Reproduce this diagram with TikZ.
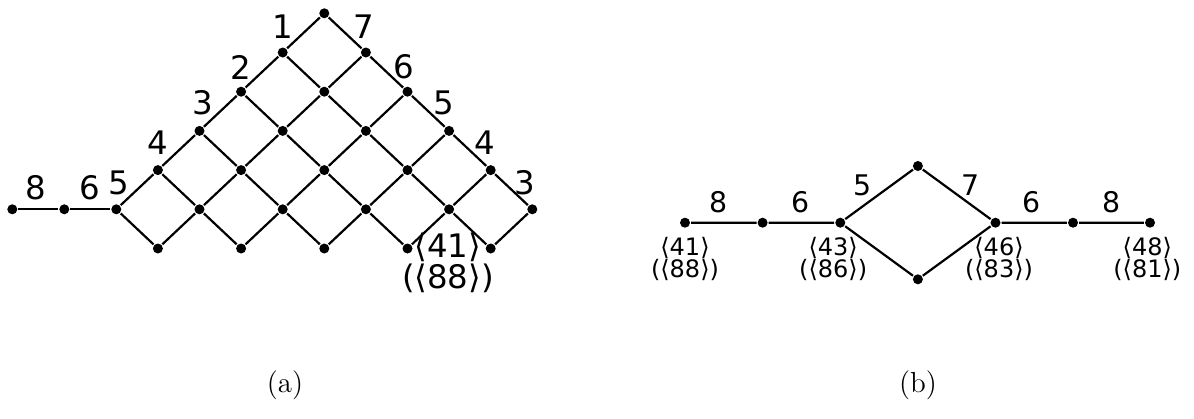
\documentclass[tikz,border=0pt]{standalone}
\usepackage{fontspec}
\newfontfamily\dejavu{DejaVu Sans}
\newcommand{\bigsz}{\dejavu\fontsize{16.2}{15.5}\selectfont}
\newcommand{\midsz}{\dejavu\fontsize{14.2}{14}\selectfont}
\newcommand{\smallsz}{\dejavu\fontsize{12}{11.2}\selectfont}
\tikzset{
  dot/.style={circle,fill,inner sep=0pt,minimum size=5pt},
  lbla/.style={font=\bigsz,inner sep=0pt,align=center},
  lblb/.style={font=\midsz,inner sep=0pt},
  vlbl/.style={font=\smallsz,inner sep=0pt,align=center},
  capt/.style={font=\fontsize{14.5}{14.5}\selectfont,inner sep=0pt}
}
\begin{document}
\begin{tikzpicture}[x=0.5pt,y=-0.5pt,line width=1.1pt]
    \useasboundingbox (0,0) rectangle (1194,418);

    % (a) lattice points
    \foreach \a in {0,...,5}{
      \pgfmathtruncatemacro\bmax{min(\a+1,5)}
      \foreach \b in {0,...,\bmax}{
        \node[dot] (g\a\b) at ({116.3+41.6*(\a+\b)},{209.3-39.2*(\a-\b)}) {};
      }
    }
    % (a) lattice edges
    \foreach \a in {0,...,5}{
      \pgfmathtruncatemacro\bmax{min(\a+1,5)}
      \foreach \b in {0,...,\bmax}{
        \pgfmathtruncatemacro\an{\a+1}
        \pgfmathtruncatemacro\bn{\b+1}
        \ifnum\a<5 \draw (g\a\b) -- (g\an\b); \fi
        \ifnum\b<\bmax \draw (g\a\b) -- (g\a\bn); \fi
      }
    }
    % (a) tail on the left
    \node[dot] (h1) at (12.3,209.3) {};
    \node[dot] (h2) at (64.3,209.3) {};
    \draw (h1) -- (h2) -- (g00);

    % (a) edge labels
    \node[lbla] (la8) at (36.3,188) {8};
    \node[lbla] (la6) at (90,188) {6};
    \node[lbla] (la5) at (118.4,183) {5};
    \node[lbla] (la4) at (158,143) {4};
    \node[lbla] (la3) at (203,103) {3};
    \node[lbla] (la2) at (241,67) {2};
    \node[lbla] (la1) at (283,27) {1};
    \node[lbla] (ra7) at (364,27) {7};
    \node[lbla] (ra6) at (404,67) {6};
    \node[lbla] (ra5) at (444,103) {5};
    \node[lbla] (ra4) at (485,143) {4};
    \node[lbla] (ra3) at (525,183) {3};
    \node[lbla] (va41) at (448,263) {⟨41⟩\\(⟨88⟩)};

    % (b) path with one square
    \node[dot] (b1) at (685,222.7) {};
    \node[dot] (b2) at (762.6,222.7) {};
    \node[dot] (b3) at (840.3,222.7) {};
    \node[dot] (bt) at (917.9,166) {};
    \node[dot] (bb) at (917.9,279.3) {};
    \node[dot] (b4) at (995.5,222.7) {};
    \node[dot] (b5) at (1073,222.7) {};
    \node[dot] (b6) at (1150,222.7) {};
    \draw (b1) -- (b2) -- (b3) -- (bt) -- (b4) -- (b5) -- (b6);
    \draw (b3) -- (bb) -- (b4);

    % (b) edge labels
    \node[lblb] (lb8) at (718.5,201.7) {8};
    \node[lblb] (lb6) at (800.4,201.7) {6};
    \node[lblb] (lb5) at (862.5,185) {5};
    \node[lblb] (lb7) at (970.8,185) {7};
    \node[lblb] (rb6) at (1031.9,201.7) {6};
    \node[lblb] (rb8) at (1112,201.7) {8};

    % (b) vertex labels
    \node[vlbl] (vb41) at (685,259) {⟨41⟩\\(⟨88⟩)};
    \node[vlbl] (vb43) at (833.2,259) {⟨43⟩\\(⟨86⟩)};
    \node[vlbl] (vb46) at (999,259) {⟨46⟩\\(⟨83⟩)};
    \node[vlbl] (vb48) at (1147.3,259) {⟨48⟩\\(⟨81⟩)};

    % captions
    \node[capt] (capa) at (285,385) {(a)};
    \node[capt] (capb) at (918,385) {(b)};
\end{tikzpicture}
\end{document}
